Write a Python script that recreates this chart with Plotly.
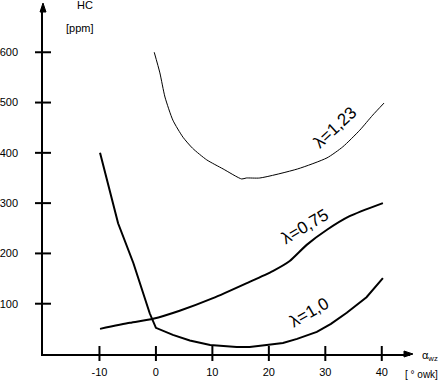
import plotly.graph_objects as go

# lambda = 1,23 (thin curve)
x_l123 = [-0.3, 0.7, 1.6, 3.0, 4.8, 6.5, 9.0, 11.9, 15.2, 16.0, 18.4, 25.1, 30.3, 33.1, 36.1, 38.4, 40.4]
y_l123 = [600, 559, 511, 465, 431, 409, 386, 368, 348, 350, 350, 368, 390, 412, 445, 475, 499]

# lambda = 0,75
x_l075 = [-9.9, -4.6, -0.5, 4.2, 10.1, 16.1, 20.7, 23.7, 26.7, 30.3, 34.3, 40.2]
y_l075 = [50, 62, 70, 86, 111, 141, 165, 185, 217, 247, 274, 300]

# lambda = 1,0
x_l10 = [-9.9, -8.7, -6.7, -4.0, -2.5, -1.1, 0.0, 3.0, 6.0, 9.6, 14.3, 16.6, 19.6, 22.5, 25.0, 28.5, 31.0, 33.8, 37.3, 40.2]
y_l10 = [400, 346, 260, 181, 127, 81, 52, 38, 27, 18, 14, 14, 18, 22, 30, 44, 60, 82, 113, 151]

x_ticks = [-10, 0, 10, 20, 30, 40]
y_ticks = [100, 200, 300, 400, 500, 600]

X_MIN, X_MAX = -20, 45
Y_MIN, Y_MAX = 0, 690

fig = go.Figure()
fig.add_trace(go.Scatter(x=x_l123, y=y_l123, mode="lines", line=dict(color="black", width=1, shape="spline", smoothing=0.6), showlegend=False))
fig.add_trace(go.Scatter(x=x_l075, y=y_l075, mode="lines", line=dict(color="black", width=2, shape="spline", smoothing=0.6), showlegend=False))
fig.add_trace(go.Scatter(x=x_l10, y=y_l10, mode="lines", line=dict(color="black", width=2), showlegend=False))

shapes = []
# crossing tick marks on the x axis
for t in x_ticks:
    shapes.append(dict(type="line", xref="x", yref="paper", ysizemode="pixel", yanchor=0,
                       x0=t, x1=t, y0=-7, y1=8, line=dict(color="black", width=2)))
# crossing tick marks on the y axis
for t in y_ticks:
    shapes.append(dict(type="line", xref="paper", yref="y", xsizemode="pixel", xanchor=0,
                       x0=-8, x1=8, y0=t, y1=t, line=dict(color="black", width=2)))
# axis arrowheads
shapes.append(dict(type="path", xref="paper", yref="paper", xsizemode="pixel", ysizemode="pixel",
                   xanchor=0, yanchor=1, path="M -3,-5 L 0,4 L 3,-5 Z",
                   fillcolor="black", line=dict(color="black", width=1)))
shapes.append(dict(type="path", xref="paper", yref="paper", xsizemode="pixel", ysizemode="pixel",
                   xanchor=1, yanchor=0, path="M -6,3 L 3,0 L -6,-3 Z",
                   fillcolor="black", line=dict(color="black", width=1)))

tickfont = dict(family="Liberation Sans Narrow, Liberation Sans, Arial", size=11, color="black")
smallfont = dict(family="Liberation Sans Narrow, Liberation Sans, Arial", size=10, color="black")
fig.update_xaxes(range=[X_MIN, X_MAX], tickvals=x_ticks, ticktext=[str(v) for v in x_ticks],
                 showline=True, linecolor="black", linewidth=1.5, showgrid=False, zeroline=False,
                 ticks="outside", ticklen=7, tickcolor="rgba(0,0,0,0)", tickfont=tickfont, automargin=False)
fig.update_yaxes(range=[Y_MIN, Y_MAX], tickvals=y_ticks, ticktext=[str(v) for v in y_ticks],
                 showline=True, linecolor="black", linewidth=1.5, showgrid=False, zeroline=False,
                 ticks="outside", ticklen=21, tickcolor="rgba(0,0,0,0)", tickfont=tickfont, automargin=False)

lab = dict(family="Liberation Sans, Arial", size=17, color="black")
ann = [
    dict(x=31.7, y=451, text="λ=1,23", textangle=-43, showarrow=False, font=lab),
    dict(x=26.4, y=254, text="λ=0,75", textangle=-31, showarrow=False, font=lab),
    dict(x=27.1, y=83, text="λ=1,0", textangle=-30, showarrow=False, font=lab),
    dict(xref="paper", yref="paper", x=0.114, y=1.006, xanchor="center", yanchor="middle",
         text="HC", showarrow=False, font=tickfont),
    dict(xref="paper", yref="paper", x=0.101, y=0.939, xanchor="center", yanchor="middle",
         text="[ppm]", showarrow=False, font=tickfont),
    dict(xref="paper", yref="paper", x=1.054, y=-0.006, xanchor="center", yanchor="middle",
         text="α<sub>wz</sub>", showarrow=False, font=tickfont),
    dict(xref="paper", yref="paper", x=1.082, y=-0.058, xanchor="right", yanchor="middle",
         text="[ ° owk]", showarrow=False, font=smallfont),
]
fig.update_layout(width=441, height=386, margin=dict(l=43, r=31, t=7, b=32),
                  paper_bgcolor="white", plot_bgcolor="white", annotations=ann, shapes=shapes)
fig.write_html("out.html")
